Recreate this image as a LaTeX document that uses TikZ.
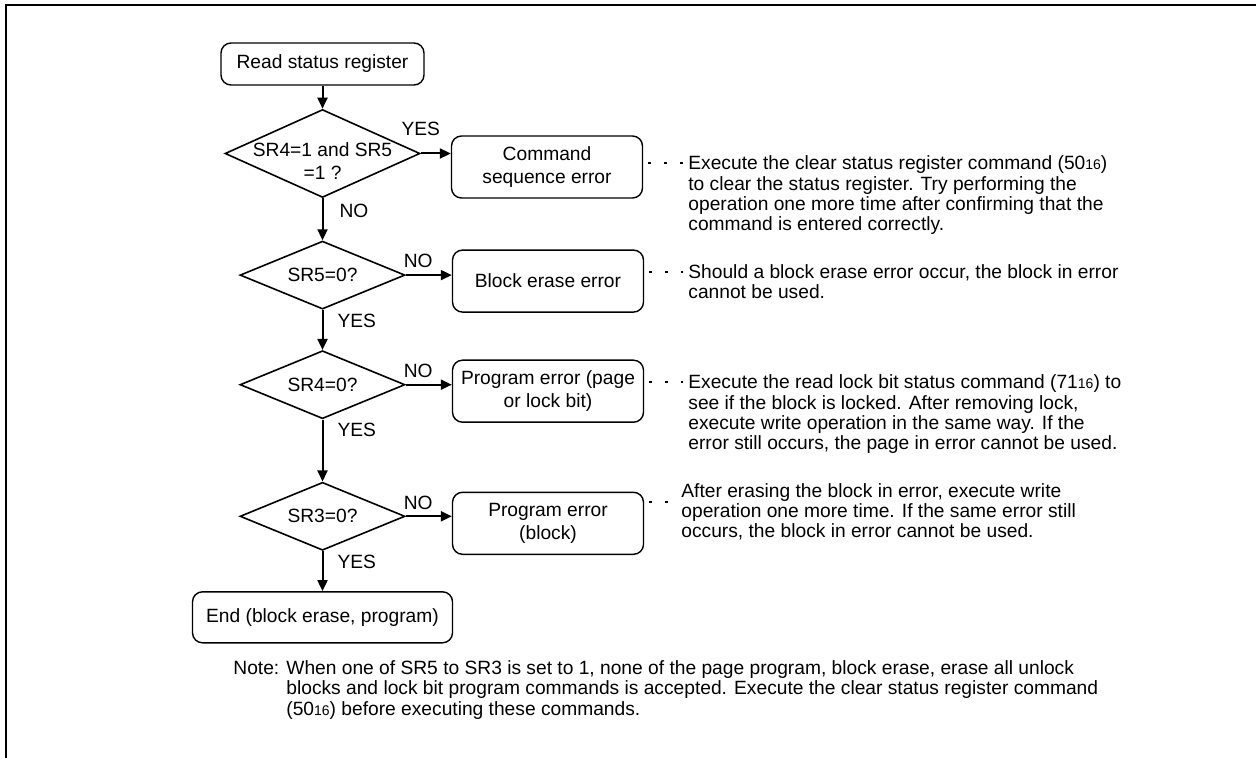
\documentclass[tikz,border=0pt]{standalone}
\usepackage{fontspec}
\setmainfont{Liberation Sans}
\usetikzlibrary{shapes.geometric, arrows.meta, positioning}
\newcommand{\hexsub}[1]{{\fontsize{7pt}{7pt}\selectfont #1}}

\begin{document}
\begin{tikzpicture}[x=0.5pt, y=-0.5pt,
    font=\fontsize{9.6pt}{11.5pt}\selectfont,
    term/.style={draw, line width=0.7pt, rounded corners=5pt, align=center, inner sep=2pt},
    errbox/.style={term, minimum width=95.5pt, minimum height=31pt},
    decision/.style={draw, diamond, aspect=2.4, line width=0.8pt, inner sep=0pt, minimum width=82.5pt, minimum height=34pt},
    flow/.style={draw, line width=1pt, -{Triangle[length=5.5pt, width=5pt]}},
    leader/.style={draw, line width=1pt, dash pattern=on 1.5pt off 6.5pt, shorten <=2.5pt},
    lbl/.style={inner sep=0pt},
    remark/.style={align=left, inner sep=0pt, font=\fontsize{9.6pt}{10.1pt}\selectfont}
]
    \useasboundingbox (0,0) rectangle (1256,758);
    \draw[line width=1.2pt] (6,758) -- (6,5) -- (1256,5);

    % Flow chart
    \node[term, minimum width=101.5pt, minimum height=21pt] (start) at (322.5,64) {Read status register};
    \node[decision, minimum width=97.5pt, minimum height=44pt, below=11.5pt of start,
          label={[yshift=-4pt, align=center]center:SR4=1 and SR5\\=1 ?}] (d1) {};
    \node[errbox, right=15pt of d1, yshift=-6.75pt] (cmd) {Command\\sequence error};
    \node[decision, below=21pt of d1] (d2) {SR5=0?};
    \node[errbox, right=23pt of d2, yshift=-3pt] (blk) {Block erase error};
    \node[decision, below=20pt of d2] (d3) {SR4=0?};
    \node[errbox, right=23pt of d3, yshift=-3.25pt] (pge) {Program error (page\\or lock bit)};
    \node[decision, below=31pt of d3] (d4) {SR3=0?};
    \node[errbox, right=23pt of d4, yshift=-3.5pt] (blke) {Program error\\(block)};
    \node[term, minimum width=130pt, minimum height=25.5pt, below=20pt of d4] (stop) {End (block erase, program)};

    % Connections
    \draw[flow] (start) -- (d1);
    \draw[flow] (d1.east) -- node[lbl, pos=0, anchor=south, yshift=8.5pt] {YES} (d1.east -| cmd.west);
    \draw[flow] (d1) -- node[lbl, pos=0, anchor=north west, xshift=8pt, yshift=-2.5pt] {NO} (d2);
    \draw[flow] (d2.east) -- node[lbl, pos=0, anchor=south west, xshift=-1.5pt, yshift=3pt] {NO} (d2.east -| blk.west);
    \draw[flow] (d2) -- node[lbl, pos=0, anchor=north west, xshift=7pt, yshift=-1.5pt] {YES} (d3);
    \draw[flow] (d3.east) -- node[lbl, pos=0, anchor=south west, xshift=-1.5pt, yshift=3pt] {NO} (d3.east -| pge.west);
    \draw[flow] (d3) -- node[lbl, pos=0, anchor=north west, xshift=7pt, yshift=-1.5pt] {YES} (d4);
    \draw[flow] (d4.east) -- node[lbl, pos=0, anchor=south west, xshift=-1.5pt, yshift=3pt] {NO} (d4.east -| blke.west);
    \draw[flow] (d4) -- node[lbl, pos=0, anchor=north west, xshift=7pt, yshift=-1.5pt] {YES} (stop);

    % Remarks (base = last line)
    \node[remark, anchor=base west] (r1) at (688,230.5) {Execute the clear status register command (50\hexsub{16})\\to clear the status register. Try performing the\\operation one more time after confirming that the\\command is entered correctly.};
    \node[remark, anchor=base west] (r2) at (688,299) {Should a block erase error occur, the block in error\\cannot be used.};
    \node[remark, anchor=base west] (r3) at (688,449.5) {Execute the read lock bit status command (71\hexsub{16}) to\\see if the block is locked. After removing lock,\\execute write operation in the same way. If the\\error still occurs, the page in error cannot be used.};
    \node[remark, anchor=base west] (r4) at (681,537.5) {After erasing the block in error, execute write\\operation one more time. If the same error still\\occurs, the block in error cannot be used.};
    \coordinate (l1) at (683,163);
    \coordinate (l2) at (683,272);
    \coordinate (l3) at (683,382);
    \coordinate (l4) at (674,502);
    \draw[leader] (cmd.east |- l1) -- (l1);
    \draw[leader] (blk.east |- l2) -- (l2);
    \draw[leader] (pge.east |- l3) -- (l3);
    \draw[leader] (blke.east |- l4) -- (l4);

    \node[remark, anchor=base west] (note) at (233,715) {Note: When one of SR5 to SR3 is set to 1, none of the page program, block erase, erase all unlock\\\phantom{Note: }blocks and lock bit program commands is accepted. Execute the clear status register command\\\phantom{Note: }(50\hexsub{16}) before executing these commands.};
\end{tikzpicture}
\end{document}
